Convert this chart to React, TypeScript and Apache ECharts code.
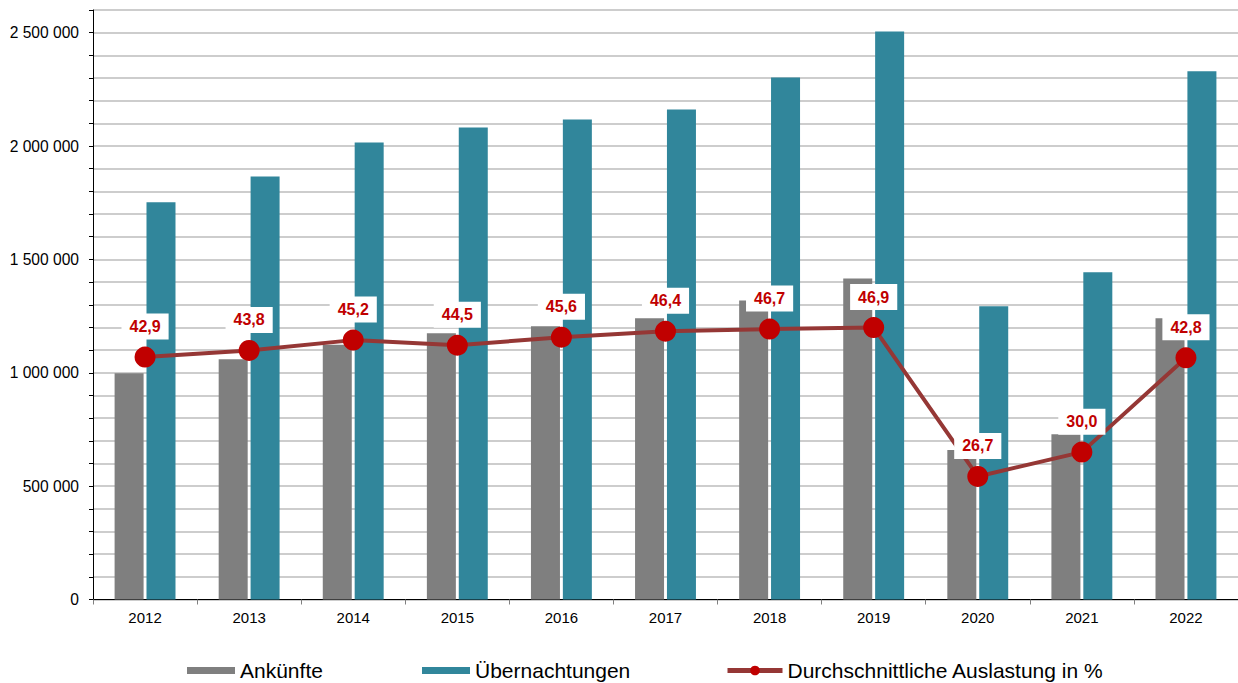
import React, { useEffect, useRef } from "react";
import * as echarts from "echarts";

const years = ["2012", "2013", "2014", "2015", "2016", "2017", "2018", "2019", "2020", "2021", "2022"];
const ankuenfte = [998000, 1060000, 1124000, 1174000, 1205000, 1240000, 1319000, 1416000, 659000, 729000, 1240000];
const uebernachtungen = [1752000, 1866000, 2016000, 2082000, 2117000, 2161000, 2302000, 2505000, 1293000, 1443000, 2330000];
const auslastung = [42.9, 43.8, 45.2, 44.5, 45.6, 46.4, 46.7, 46.9, 26.7, 30.0, 42.8];

const NAME_A = "Ankünfte";
const NAME_U = "Übernachtungen";
const NAME_L = "Durchschnittliche Auslastung in %";

const FONT = "'Liberation Sans', Arial, sans-serif";

function fmtThousands(v: number): string {
  return String(v).replace(/\B(?=(\d{3})+(?!\d))/g, " ");
}

export default function App() {
  const ref = useRef<HTMLDivElement>(null);
  useEffect(() => {
    if (!ref.current) return;
    const chart = echarts.init(ref.current, null, { renderer: "svg" });
    const barIcon = "path://M0,0 H48 V7 H0 Z";
    const legendText = { fontSize: 21, color: "#000", fontFamily: FONT };
    chart.setOption({
      animation: false,
      textStyle: { fontFamily: FONT },
      grid: { left: 93, top: 10, width: 1147, height: 589.5, containLabel: false },
      legend: [
        {
          left: 187, top: 660, padding: 0, itemWidth: 48, itemHeight: 12, symbolKeepAspect: true,
          textStyle: legendText, data: [{ name: NAME_A, icon: barIcon }],
        },
        {
          left: 422, top: 660, padding: 0, itemWidth: 48, itemHeight: 12, symbolKeepAspect: true,
          textStyle: legendText, data: [{ name: NAME_U, icon: barIcon }],
        },
        {
          left: 725, top: 660, padding: 0, itemWidth: 55, itemHeight: 12,
          lineStyle: { width: 5 },
          textStyle: legendText, data: [{ name: NAME_L }],
        },
      ],
      xAxis: {
        type: "category",
        data: years,
        axisLine: { lineStyle: { color: "#000", width: 1 } },
        axisTick: { show: true, length: 5, lineStyle: { color: "#808080" } },
        axisLabel: { fontSize: 15, color: "#000", margin: 10, fontFamily: FONT },
      },
      yAxis: [
        {
          type: "value",
          min: 0,
          max: 2600000,
          interval: 100000,
          axisLine: { show: true, lineStyle: { color: "#000", width: 1 } },
          axisTick: { show: true, length: 4, lineStyle: { color: "#000" } },
          axisLabel: {
            fontSize: 15.6,
            color: "#000",
            margin: 14,
            fontFamily: FONT,
            formatter: (v: number) => (v % 500000 === 0 && v <= 2500000 ? fmtThousands(v) : ""),
          },
          splitLine: { show: true, lineStyle: { color: "#BDBDBD", width: 1.6 } },
        },
        {
          type: "value",
          min: 10,
          max: 90,
          show: false,
          splitLine: { show: false },
        },
      ],
      series: [
        {
          name: NAME_A,
          type: "bar",
          data: ankuenfte,
          barWidth: 29,
          barGap: "10%",
          itemStyle: { color: "#7F7F7F" },
        },
        {
          name: NAME_U,
          type: "bar",
          data: uebernachtungen,
          barWidth: 29,
          barGap: "10%",
          itemStyle: { color: "#31869B" },
        },
        {
          name: NAME_L,
          type: "line",
          yAxisIndex: 1,
          data: auslastung,
          symbol: "circle",
          symbolSize: 21,
          lineStyle: { color: "#953735", width: 4 },
          itemStyle: { color: "#C00000" },
          label: {
            show: true,
            position: "top",
            distance: 7,
            backgroundColor: "#FFFFFF",
            color: "#C00000",
            fontWeight: "bold",
            fontSize: 16,
            fontFamily: FONT,
            padding: [5, 8, 5, 8],
            formatter: (p: any) => Number(p.value).toFixed(1).replace(".", ","),
          },
          z: 5,
        },
      ],
    });
    return () => chart.dispose();
  }, []);
  return (
    <div
      ref={ref}
      style={{ position: "absolute", left: 0, top: 0, width: 1238, height: 683, background: "#fff" }}
    />
  );
}
